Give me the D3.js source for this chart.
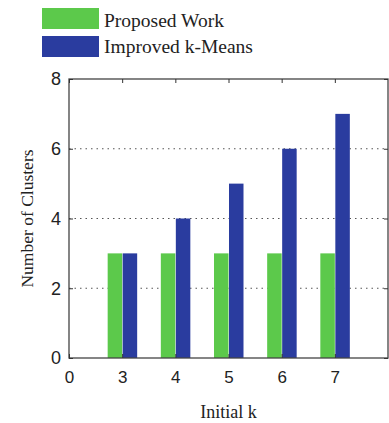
<!DOCTYPE html>
<html><head><meta charset="utf-8">
<script src="https://cdn.jsdelivr.net/npm/d3@7/dist/d3.min.js"></script>
<style>body{margin:0;background:#fff}svg{display:block}</style>
</head><body>
<script>
const categories = ["3","4","5","6","7"];
const proposed = [3,3,3,3,3];
const improved = [3,4,5,6,7];
const seriesNames = ["Proposed Work","Improved k-Means"];
const yTicks = [0,2,4,6,8];
const xTickLabels = ["0","3","4","5","6","7"];

const W=389,H=423;
const m={left:69,right:1,top:79,bottom:65};
const svg=d3.select("body").append("svg").attr("width",W).attr("height",H);
const iw=W-m.left-m.right, ih=H-m.top-m.bottom;
const g=svg.append("g").attr("transform",`translate(${m.left},${m.top})`);
const x=d3.scaleLinear().domain([0,6]).range([0,iw]);
const y=d3.scaleLinear().domain([0,8]).range([ih,0]);
const colors=["#5cc94b","#2a3c9f"];
const bw=14.5;

// grid
g.selectAll(".grid").data([2,4,6]).enter().append("line")
 .attr("x1",0).attr("x2",iw).attr("y1",d=>y(d)).attr("y2",d=>y(d))
 .attr("stroke","#555").attr("stroke-width",1.2).attr("stroke-dasharray","1.5,4");

// bars
const xs=categories.map((c,i)=>i+1);
g.selectAll(".b0").data(proposed).enter().append("rect")
 .attr("x",(d,i)=>x(xs[i])-bw).attr("width",bw)
 .attr("y",d=>y(d)).attr("height",d=>y(0)-y(d)).attr("fill",colors[0]);
g.selectAll(".b1").data(improved).enter().append("rect")
 .attr("x",(d,i)=>x(xs[i])+0.5).attr("width",bw)
 .attr("y",d=>y(d)).attr("height",d=>y(0)-y(d)).attr("fill",colors[1]);

// box
g.append("rect").attr("x",0).attr("y",0).attr("width",iw).attr("height",ih)
 .attr("fill","none").attr("stroke","#444").attr("stroke-width",1.3);

// axes
const xTickVals=[0,1,2,3,4,5];
const xa=d3.axisBottom(x).tickValues(xTickVals).tickFormat((d,i)=>xTickLabels[i]).tickSizeInner(-4).tickSizeOuter(0).tickPadding(13);
const xg=g.append("g").attr("transform",`translate(0,${ih})`).call(xa);
const xt=g.append("g").call(d3.axisTop(x).tickValues(xTickVals).tickFormat("").tickSizeInner(-4).tickSizeOuter(0));
const ya=d3.axisLeft(y).tickValues(yTicks).tickSizeInner(-4).tickSizeOuter(0).tickPadding(8);
const yg=g.append("g").call(ya);
const yr=g.append("g").attr("transform",`translate(${iw},0)`).call(d3.axisRight(y).tickValues(yTicks).tickFormat("").tickSizeInner(-4).tickSizeOuter(0));
[xg,xt,yg,yr].forEach(a=>{a.select(".domain").remove();a.selectAll("line").attr("stroke","#333");});
xg.selectAll("text").attr("font-family","Liberation Sans, Arial, sans-serif").attr("font-size",17).attr("fill","#222");
yg.selectAll("text").attr("font-family","Liberation Sans, Arial, sans-serif").attr("font-size",18).attr("fill","#222");

// axis labels
svg.append("text").attr("x",m.left+iw/2).attr("y",418).attr("text-anchor","middle")
 .attr("font-family","Liberation Serif, Times New Roman, serif").attr("font-size",18).attr("fill","#222").text("Initial k");
svg.append("text").attr("transform",`translate(33,${m.top+ih/2}) rotate(-90)`).attr("text-anchor","middle")
 .attr("font-family","Liberation Serif, Times New Roman, serif").attr("font-size",17.5).attr("fill","#222").text("Number of Clusters");

// legend
const lg=svg.append("g");
seriesNames.forEach((n,i)=>{
  lg.append("rect").attr("x",42).attr("y",8+i*28).attr("width",57).attr("height",21).attr("fill",colors[i]);
  lg.append("text").attr("x",104).attr("y",27+i*26).attr("font-family","Liberation Serif, Times New Roman, serif")
   .attr("font-size",19.5).attr("fill","#222").text(n);
});
</script>
</body></html>
